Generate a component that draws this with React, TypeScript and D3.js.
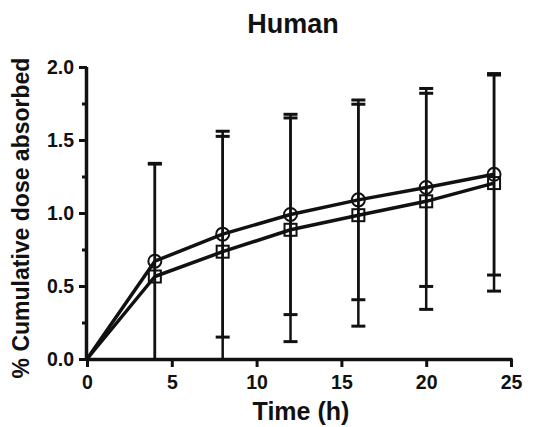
import { useEffect, useRef } from 'react';
import * as d3 from 'd3';

const TIMES = [0, 4, 8, 12, 16, 20, 24];
const CIRCLE_MEAN = [0, 0.67, 0.855, 0.99, 1.09, 1.175, 1.265];
const CIRCLE_SD = [0, 0.67, 0.705, 0.686, 0.684, 0.678, 0.69];
const SQUARE_MEAN = [0, 0.565, 0.735, 0.885, 0.985, 1.08, 1.205];
const SQUARE_SD = [0, 0.77, 0.79, 0.766, 0.76, 0.74, 0.74];
const X_TICKS = [0, 5, 10, 15, 20, 25];
const Y_TICKS = [0, 0.5, 1.0, 1.5, 2.0];
const Y_MINOR = [0.25, 0.75, 1.25, 1.75];

const FONT = '"Liberation Sans", Arial, Helvetica, sans-serif';
const INK = '#111';

export default function App() {
  const svgRef = useRef<SVGSVGElement>(null);

  useEffect(() => {
    if (!svgRef.current) return;
    const W = 538, H = 427;
    const M = { top: 67, right: 27, bottom: 68, left: 87 };

    const svg = d3.select(svgRef.current).attr('width', W).attr('height', H);
    svg.selectAll('*').remove();

    const x = d3.scaleLinear().domain([0, 25]).range([M.left, W - M.right]);
    const y = d3.scaleLinear().domain([0, 2]).range([H - M.bottom, M.top]);

    // Title
    svg.append('text').attr('x', 293).attr('y', 33).attr('text-anchor', 'middle')
      .style('font-family', FONT).style('font-weight', 'bold').style('font-size', '27px')
      .style('fill', INK).text('Human');

    // Axes
    const xAxis = svg.append('g').attr('transform', `translate(0,${y(0)})`)
      .call(d3.axisBottom(x).tickValues(X_TICKS).tickSize(8).tickPadding(8).tickFormat(d3.format('d')));
    const yAxis = svg.append('g').attr('transform', `translate(${x(0)},0)`)
      .call(d3.axisLeft(y).tickValues(Y_TICKS).tickSize(8).tickPadding(5).tickFormat(d3.format('.1f')));
    svg.append('g').attr('transform', `translate(${x(0)},0)`)
      .call(d3.axisLeft(y).tickValues(Y_MINOR).tickSize(5).tickFormat(() => ''))
      .call(g => g.select('.domain').remove());

    for (const g of [xAxis, yAxis]) {
      g.attr('font-size', null);
      g.selectAll('text').style('font-family', FONT).style('font-weight', 'bold')
        .style('font-size', '19.5px').style('fill', INK);
    }
    svg.selectAll('.domain').style('stroke', INK).style('stroke-width', 3.5);
    svg.selectAll('.tick line').style('stroke', INK).style('stroke-width', 3);
    xAxis.selectAll('path.domain').attr('d', `M${x(0)},0.5H${x(25) + 1.5}`);
    yAxis.selectAll('path.domain').attr('d', `M-0.5,${y(0) + 1.5}V${y(2)}`);

    // Axis labels
    svg.append('text').attr('x', 301).attr('y', 420).attr('text-anchor', 'middle')
      .style('font-family', FONT).style('font-weight', 'bold').style('font-size', '25px')
      .style('fill', INK).text('Time (h)');
    svg.append('text').attr('transform', `translate(29,218) rotate(-90)`)
      .attr('text-anchor', 'middle')
      .style('font-family', FONT).style('font-weight', 'bold').style('font-size', '23px')
      .style('fill', INK).text('% Cumulative dose absorbed');

    const series = [
      { mean: CIRCLE_MEAN, sd: CIRCLE_SD, shape: 'circle' },
      { mean: SQUARE_MEAN, sd: SQUARE_SD, shape: 'square' },
    ];

    // Error bars
    const cap = 7;
    for (const s of series) {
      TIMES.forEach((t, i) => {
        if (s.sd[i] <= 0) return;
        const hi = s.mean[i] + s.sd[i];
        const lo = s.mean[i] - s.sd[i];
        const cx = x(t);
        svg.append('line').attr('x1', cx).attr('x2', cx)
          .attr('y1', y(hi)).attr('y2', y(Math.max(lo, 0)))
          .style('stroke', INK).style('stroke-width', 2.5);
        svg.append('line').attr('x1', cx - cap).attr('x2', cx + cap)
          .attr('y1', y(hi)).attr('y2', y(hi))
          .style('stroke', INK).style('stroke-width', 3);
        if (lo > 0.01) {
          svg.append('line').attr('x1', cx - cap).attr('x2', cx + cap)
            .attr('y1', y(lo)).attr('y2', y(lo))
            .style('stroke', INK).style('stroke-width', 3);
        }
      });
    }

    // Lines
    const line = d3.line<number>().x((_, i) => x(TIMES[i])).y(d => y(d));
    for (const s of series) {
      svg.append('path').datum(s.mean).attr('d', line)
        .style('fill', 'none').style('stroke', INK).style('stroke-width', 3.5)
        .style('stroke-linejoin', 'round');
    }

    // Markers
    for (const s of series) {
      TIMES.forEach((t, i) => {
        if (t === 0) return;
        const cx = x(t), cy = y(s.mean[i]);
        if (s.shape === 'circle') {
          svg.append('circle').attr('cx', cx).attr('cy', cy).attr('r', 6.5)
            .style('fill', 'none').style('stroke', INK).style('stroke-width', 2);
        } else {
          svg.append('rect').attr('x', cx - 6).attr('y', cy - 6).attr('width', 12).attr('height', 12)
            .style('fill', 'none').style('stroke', INK).style('stroke-width', 2);
        }
      });
    }
  }, []);

  return (
    <div style={{ position: 'absolute', left: 0, top: 0, background: '#fff' }}>
      <svg ref={svgRef} style={{ display: 'block' }} />
    </div>
  );
}
